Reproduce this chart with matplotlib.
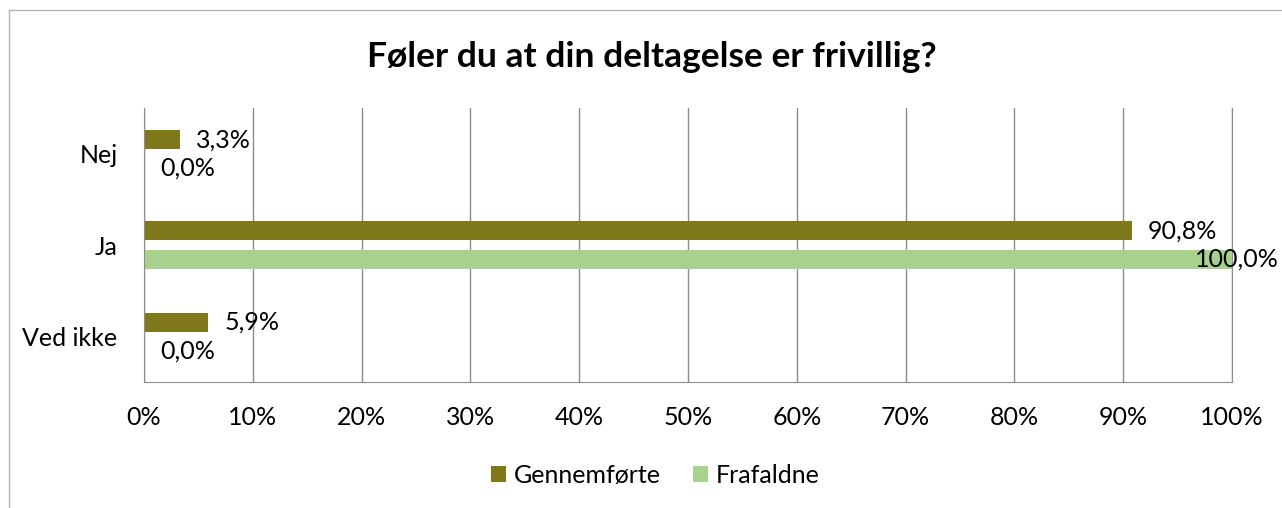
import matplotlib.pyplot as plt
from matplotlib.lines import Line2D
import numpy as np

# data
categories = ['Nej', 'Ja', 'Ved ikke']
gennemforte = [3.3, 90.8, 5.9]
frafaldne = [0.0, 100.0, 0.0]
series_names = ['Gennemførte', 'Frafaldne']
colors = ['#7F791B', '#A9D18E']

plt.rcParams['font.family'] = ['Lato', 'DejaVu Sans']
fs = 18

fig = plt.figure(figsize=(12.82, 5.08), dpi=100)
ax = fig.add_axes([0.1123, 0.248, 0.8487, 0.539])

y = np.arange(len(categories))
h = 0.208
off = 0.156
b1 = ax.barh(y - off, gennemforte, height=h, color=colors[0], label=series_names[0])
b2 = ax.barh(y + off, frafaldne, height=h, color=colors[1], label=series_names[1])

# værdi-labels (100% label sidder helt ude ved kanten)
def lab(v, yy):
    txt = f'{v:.1f}'.replace('.', ',') + '%'
    if v >= 99:
        ax.annotate(txt, (v, yy), xytext=(34, 0), textcoords='offset points',
                    ha='right', va='center', fontsize=fs, annotation_clip=False)
    else:
        ax.annotate(txt, (v, yy), xytext=(11.5, 0), textcoords='offset points',
                    ha='left', va='center', fontsize=fs, annotation_clip=False)

for i in range(len(categories)):
    lab(gennemforte[i], y[i] - off)
    lab(frafaldne[i], y[i] + off)

ax.set_xlim(0, 100)
ax.set_ylim(2.5, -0.5)
ax.set_xticks(np.arange(0, 101, 10))
ax.set_xticklabels([f'{t}%' for t in range(0, 101, 10)], fontsize=fs)
ax.set_yticks(y)
ax.set_yticklabels(categories, fontsize=fs)
ax.tick_params(axis='both', length=0)
ax.tick_params(axis='x', pad=17)
ax.tick_params(axis='y', pad=19)

ax.grid(axis='x', color='#8C8C8C', linewidth=1)
ax.set_axisbelow(True)
ax.spines['top'].set_visible(False)
for s in ['left', 'bottom', 'right']:
    ax.spines[s].set_color('#8C8C8C')

fig.text(0.5085, 0.888, 'Føler du at din deltagelse er frivillig?', ha='center', va='center',
         fontsize=25.5, fontweight='bold')

fig.legend(handles=[b1, b2], loc='center', bbox_to_anchor=(0.511, 0.064), ncol=2,
           frameon=False, fontsize=fs, handlelength=0.6, handleheight=0.6,
           handletextpad=0.3, columnspacing=1.3)

# ramme
fig.add_artist(Line2D([9 / 1282, 9 / 1282], [0, 1 - 10 / 508], color='#B4B4B4', linewidth=1))
fig.add_artist(Line2D([9 / 1282, 1], [1 - 10 / 508, 1 - 10 / 508], color='#B4B4B4', linewidth=1))

fig.savefig('out.png', dpi=100)
